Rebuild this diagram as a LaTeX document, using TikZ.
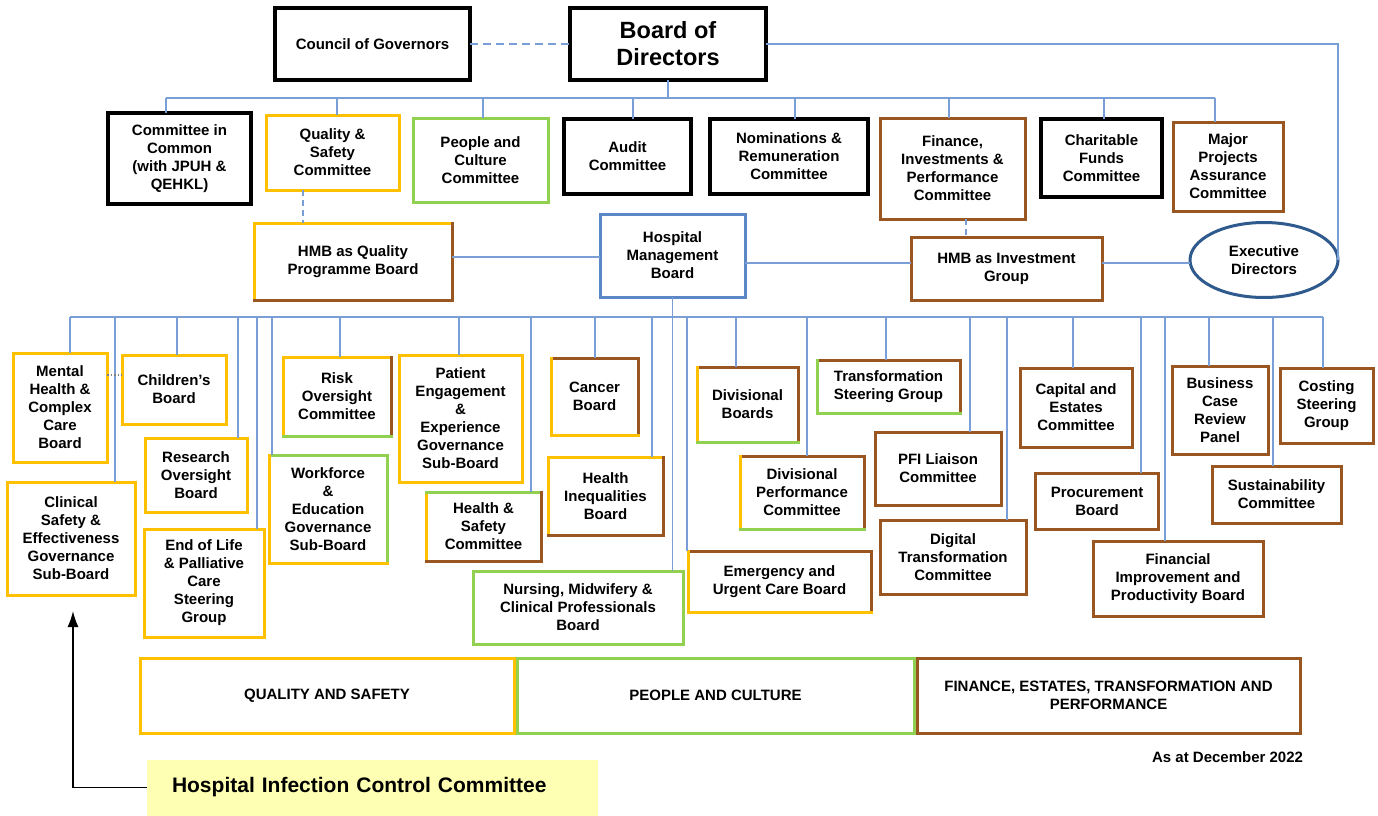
\documentclass[tikz,border=0pt]{standalone}
\usepackage{fontspec}
\setmainfont{Liberation Sans}
\usetikzlibrary{shapes.geometric,arrows.meta}
\definecolor{qsyellow}{HTML}{FFC000}
\definecolor{pcgreen}{HTML}{92D050}
\definecolor{febrown}{HTML}{9A5620}
\definecolor{linkblue}{HTML}{7A9FD6}
\definecolor{hmbblue}{HTML}{5B87C6}
\definecolor{exdblue}{HTML}{2E5A8E}
\definecolor{hicyellow}{HTML}{FFFFB3}
\begin{document}
\begin{tikzpicture}
   [
     x = 1pt, y = -1pt,
     every node/.style = {font=\bfseries\fontsize{15}{18}\selectfont,
                          align=center, inner sep=0pt, outer sep=0pt},
     wh/.style 2 args  = {minimum width=#1pt, minimum height=#2pt},
     box/.style        = {shape=rectangle, draw, line width=3pt},
     govbox/.style     = {box, draw=black, line width=3.5pt},
     qsbox/.style      = {box, draw=qsyellow},
     pcbox/.style      = {box, draw=pcgreen},
     febox/.style      = {box, draw=febrown},
     link/.style       = {draw=linkblue, line width=1.5pt},
     edge/.style       = {line width=3pt, line cap=rect}
   ]
    \useasboundingbox (0,0) rectangle (1378,816);

    \node [govbox, wh={195}{72}] (gov) at (372.5,44) {Council of Governors};
    \node [govbox, wh={196}{72}, font=\bfseries\fontsize{23.5}{27}\selectfont]
      (bod) at (668,44) {Board of\\Directors};

    \node [govbox, wh={143}{91}] (cic) at (179.5,158.5) {Committee in\\Common\\(with JPUH \&\\QEHKL)};
    \node [qsbox, wh={133}{75}] (qsc) at (332.5,152.5) {Quality \&\\Safety\\Committee};
    \node [pcbox, wh={135}{84}] (pcc) at (480.5,160) {People and\\Culture\\Committee};
    \node [govbox, wh={127}{75}] (aud) at (627.5,156.5) {Audit\\Committee};
    \node [govbox, wh={158}{75}] (nom) at (789,156.5) {Nominations \&\\Remuneration\\Committee};
    \node [febox, wh={145}{101}] (fip) at (952.5,168.5) {Finance,\\Investments \&\\Performance\\Committee};
    \node [govbox, wh={121}{78}] (cfc) at (1101.5,158) {Charitable\\Funds\\Committee};
    \node [febox, wh={110}{89}] (mpa) at (1228,166.5) {Major\\Projects\\Assurance\\Committee};

    \node [qsbox, wh={198}{77}] (hmbq) at (353,261.5) {HMB as Quality\\Programme Board};
    \node [box, draw=hmbblue, wh={145}{83}] (hmb) at (672.5,255.5) {Hospital\\Management\\Board};
    \node [febox, wh={191}{63}] (hmbi) at (1006.5,268.5) {HMB as Investment\\Group};
    \node [ellipse, draw=exdblue, line width=3pt, wh={148}{75}] (exd) at (1264,260) {Executive\\Directors};

    \node [qsbox, wh={94}{109}] (mhcc) at (60,407.5) {Mental\\Health \&\\Complex\\Care\\Board};
    \node [qsbox, wh={104}{69}] (chb) at (174,389.5) {Children’s\\Board};
    \node [qsbox, wh={102}{74}] (rob) at (196,475) {Research\\Oversight\\Board};
    \node [qsbox, wh={128}{113}] (cse) at (71,538.5) {Clinical\\Safety \&\\Effectiveness\\Governance\\Sub-Board};
    \node [qsbox, wh={120}{108}] (eol) at (204,583) {End of Life\\\& Palliative\\Care\\Steering\\Group};
    \node [qsbox, wh={108}{79}] (roc) at (337,396.5) {Risk\\Oversight\\Committee};
    \node [pcbox, wh={118}{108}] (web) at (328,509) {Workforce\\\&\\Education\\Governance\\Sub-Board};
    \node [qsbox, wh={123}{127}] (pee) at (460.5,418.5) {Patient\\Engagement\\\&\\Experience\\Governance\\Sub-Board};
    \node [qsbox, wh={115}{69}] (hsc) at (483.5,526.5) {Health \&\\Safety\\Committee};
    \node [febox, wh={87}{77}] (cab) at (594.5,396.5) {Cancer\\Board};
    \node [qsbox, wh={115}{78}] (hia) at (605.5,496) {Health\\Inequalities\\Board};
    \node [pcbox, wh={210}{73}] (nmc) at (578,607.5) {Nursing, Midwifery \&\\Clinical Professionals\\Board};
    \node [febox, wh={183}{61}] (euc) at (779.5,581.5) {Emergency and\\Urgent Care Board};
    \node [febox, wh={101}{75}] (dib) at (747.5,404.5) {Divisional\\Boards};
    \node [febox, wh={124}{73}] (dpc) at (802,492.5) {Divisional\\Performance\\Committee};
    \node [febox, wh={143}{53}] (tsg) at (888.5,386.5) {Transformation\\Steering Group};
    \node [febox, wh={126}{73}] (pfi) at (938,468.5) {PFI Liaison\\Committee};
    \node [febox, wh={146}{74}] (dtc) at (953,557) {Digital\\Transformation\\Committee};
    \node [febox, wh={112}{79}] (cec) at (1076,407.5) {Capital and\\Estates\\Committee};
    \node [febox, wh={123}{56}] (prb) at (1097,501) {Procurement\\Board};
    \node [febox, wh={170}{75}] (fipb) at (1178,578.5) {Financial\\Improvement and\\Productivity Board};
    \node [febox, wh={96}{88}] (bcr) at (1220,410) {Business\\Case\\Review\\Panel};
    \node [febox, wh={129}{57}] (suc) at (1276.5,494.5) {Sustainability\\Committee};
    \node [febox, wh={93}{75}] (csg) at (1326.5,405.5) {Costing\\Steering\\Group};

    \node [qsbox, wh={374}{75}] (bqs) at (327,695.5) {QUALITY AND SAFETY};
    \node [pcbox, wh={397}{75}] (bpc) at (715.5,695.5) {PEOPLE AND CULTURE};
    \node [febox, wh={383}{75}] (bfe) at (1108.5,695.5) {FINANCE, ESTATES, TRANSFORMATION AND\\PERFORMANCE};
    \node [anchor=east] (date) at (1303,757) {As at December 2022};

    \node [fill=hicyellow, anchor=west, align=left, text width=401pt, inner xsep=25pt,
      minimum height=56pt, font=\bfseries\fontsize{21}{25}\selectfont]
      (hic) at (147,787.5) {Hospital Infection Control Committee};

    \draw [edge, febrown] (hmbq.north east) -- (hmbq.south east) -- (hmbq.south west);
    \draw [edge, febrown] (roc.north east) -- (roc.south east);
    \draw [edge, pcgreen] (roc.south west) -- (roc.south east);
    \draw [edge, qsyellow] (web.north west) -- (web.south west) -- (web.south east);
    \draw [edge, pcgreen] (hsc.north west) -- (hsc.north east);
    \draw [edge, febrown] (hsc.north east) -- (hsc.south east) -- (hsc.south west);
    \draw [edge, qsyellow] (cab.north west) -- (cab.south west) -- (cab.south east);
    \draw [edge, febrown] (hia.north east) -- (hia.south east) -- (hia.south west);
    \draw [edge, qsyellow] (euc.north west) -- (euc.south west) -- (euc.south east);
    \draw [edge, qsyellow] (dib.north west) -- (dib.south west);
    \draw [edge, pcgreen] (dib.south west) -- (dib.south east);
    \draw [edge, qsyellow] (dpc.north west) -- (dpc.south west);
    \draw [edge, pcgreen] (dpc.south west) -- (dpc.south east);
    \draw [edge, pcgreen] (tsg.north west) -- (tsg.south west) -- (tsg.south east);

    \draw [link, dashed, dash pattern=on 8pt off 5pt] (gov) -- (bod);
    \draw [link] (bod.east) -| (exd.east);
    \draw [link] (bod.south) -- (bod.south |- 0,98);
    \draw [link] (166,98) -- (1215,98);
    \foreach \px/\bx in {166/cic, 337/qsc, 483/pcc, 633/aud, 795/nom, 949/fip, 1104/cfc, 1215/mpa}
      \draw [link] (\px,98) -- (\bx.north -| \px,0);
    \draw [link, dashed, dash pattern=on 6pt off 4pt] (qsc.south -| 303,0) -- (hmbq.north -| 303,0);
    \draw [link, dashed, dash pattern=on 6pt off 4pt] (fip.south -| 966,0) -- (hmbi.north -| 966,0);
    \draw [link] (hmbq.east |- 0,257) -- (hmb.west |- 0,257);
    \draw [link] (hmb.east |- 0,263) -- (hmbi.west |- 0,263);
    \draw [link] (hmbi.east |- 0,263) -- (exd.west |- 0,263);

    \draw [link] (hmb.south) -- (nmc.north -| hmb.south);
    \draw [link] (70,317) -- (1323,317);
    \foreach \px/\bx in {70/mhcc, 115/cse, 177/chb, 238/rob, 257/eol, 272/web, 340/roc, 459/pee,
                         531/hsc, 595/cab, 652/hia, 687/euc, 736/dib, 807/dpc, 886/tsg, 970/pfi,
                         1007/dtc, 1073/cec, 1141/prb, 1165/fipb, 1209/bcr, 1273/suc, 1323/csg}
      \draw [link] (\px,317) -- (\bx.north -| \px,0);
    \draw [gray, dotted, line width=1.5pt] (mhcc.east |- 0,375) -- (chb.west |- 0,375);

    \coordinate (tip) at (73,611);
    \draw [line width=1.5pt, -{Latex[length=16pt, width=11pt]}] (hic.west) -| (tip);
\end{tikzpicture}
\end{document}
